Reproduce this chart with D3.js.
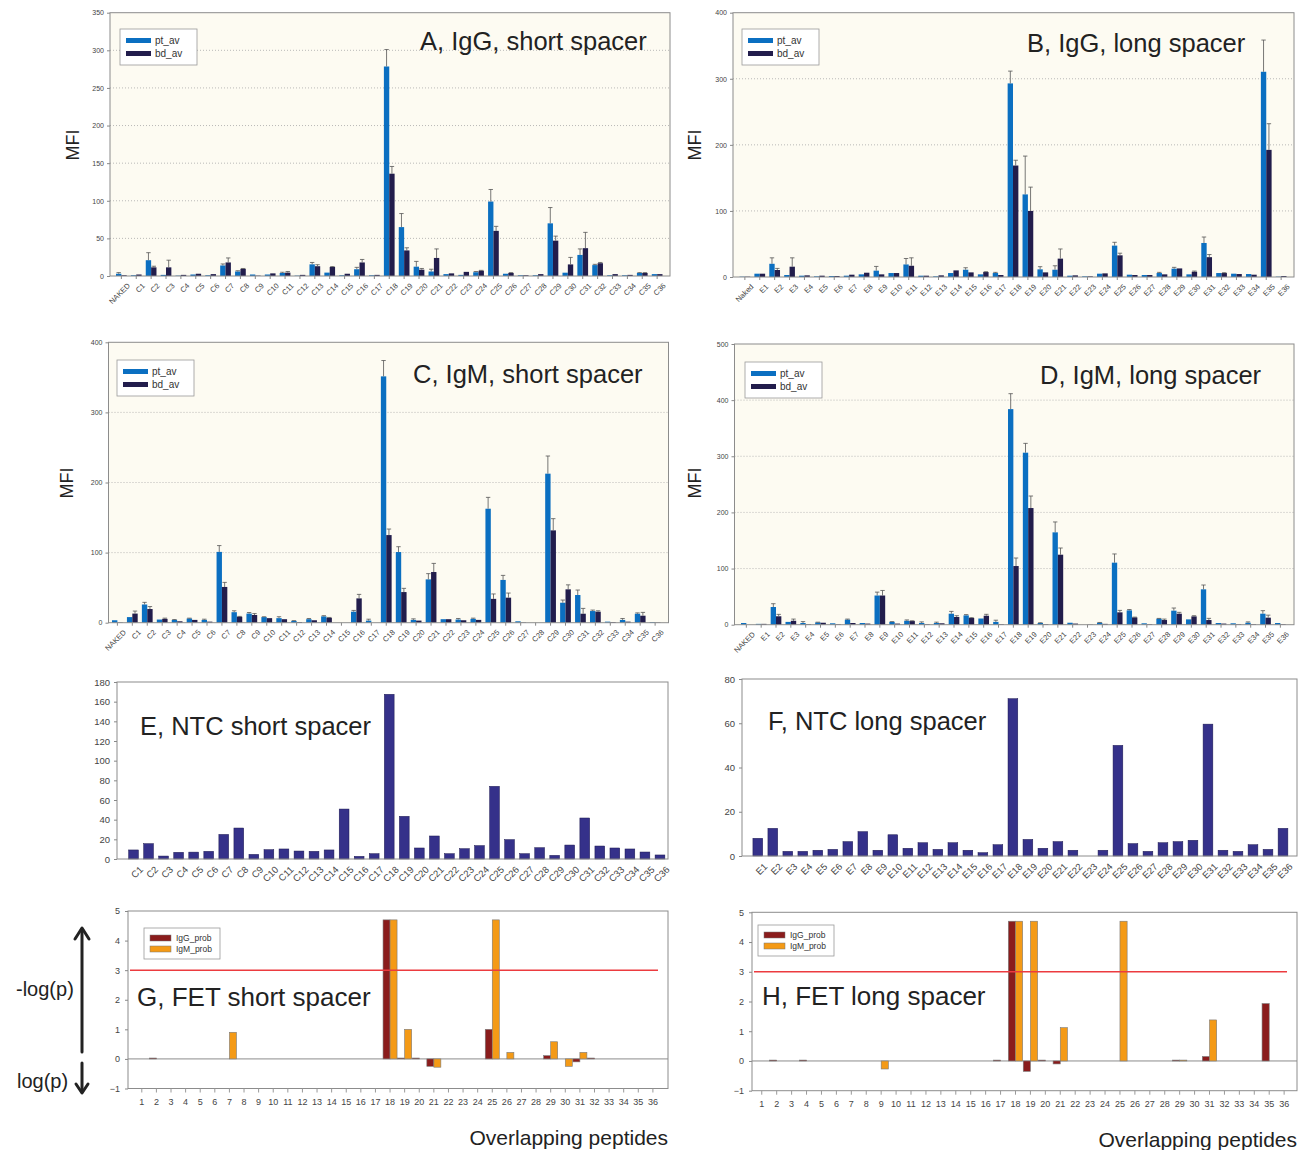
<!DOCTYPE html>
<html>
<head>
<meta charset="utf-8">
<script src="https://cdn.jsdelivr.net/npm/d3@7"></script>
<style>
  body { margin: 0; background: #fff; }
  text { font-family: "Liberation Sans", Arial, sans-serif; }
</style>
</head>
<body>
<svg id="fig" width="1309" height="1150"></svg>
<script>
// ---- categories ----
var shortCats = ["NAKED","C1","C2","C3","C4","C5","C6","C7","C8","C9","C10","C11","C12","C13","C14","C15","C16","C17","C18","C19","C20","C21","C22","C23","C24","C25","C26","C27","C28","C29","C30","C31","C32","C33","C34","C35","C36"];
var longCatsB = ["Naked","E1","E2","E3","E4","E5","E6","E7","E8","E9","E10","E11","E12","E13","E14","E15","E16","E17","E18","E19","E20","E21","E22","E23","E24","E25","E26","E27","E28","E29","E30","E31","E32","E33","E34","E35","E36"];
var longCatsD = ["NAKED"].concat(longCatsB.slice(1));
var peptideNums = ["1","2","3","4","5","6","7","8","9","10","11","12","13","14","15","16","17","18","19","20","21","22","23","24","25","26","27","28","29","30","31","32","33","34","35","36"];

// ---- A, IgG short spacer ----
var aPt    = [3,1,21,1.5,0.5,2,1,14,6,2,2,4,0.5,15.5,4.5,1,9,1,278.5,65,12.4,6,2.5,1.5,5,99,3,1,1,70,4.4,28,14.5,1,1,4,2.5];
var aPtErr = [1.5,0,10,0,0,0,0,2,1,0,0,1,0,2.5,0,0,2.5,0,22.5,18,7,3,0,0,1,16,0,0,0,21,0,8,1,0,0,0.5,0];
var aBd    = [1,2,11.5,11.5,1.5,3,2.5,18,9.5,0.5,3.5,4.5,1.5,13,12,3,18,1.5,136,34,8.4,24,3.5,5.5,7,60,4,1,2.5,47,15.4,37,17,2.5,1.5,4,2.5];
var aBdErr = [0,0,1.5,9.5,0,0,0,6,0.5,0,0,1.5,0,2,0.5,0,4,0,9.6,3.5,1.6,12,0,0,0.5,6,0.5,0,0,6,9.3,21,1,0,0,0.5,0];

// ---- B, IgG long spacer ----
var bPt    = [0.5,5,20,3,2,1,1.5,2,4,9.6,6,19,2,1,6,11,4,6,293,125,11.6,11,2,1,5,47.5,3.5,3,6,12.6,4,51.5,6,5,4.5,310.6,0.5];
var bPtErr = [0,0,9,0,0,0,0,0,0,6.4,0,9,0,0,0,3,0,1,18.6,58,4,6,0,0,0,5,0,0,1,2,0,9,0,0,0,48,0];
var bBd    = [0.5,5,10.6,15.6,2.5,2,1.5,3.5,6.5,4,6,17,2,2.5,10,7,7.5,3,168.7,100,7,27.8,2.5,1,5.5,32.8,3,3,4,13,8,30,6,4.5,3.5,192.4,1.5];
var bBdErr = [0,0,2.4,13.4,0,0,0,0,0,0,0,12,0,0,0,0,0.5,0,8,36,0,14.6,0,0,0,3.2,0,0,0,0,1,4,0.5,0,0,39.6,0];

// ---- C, IgM short spacer ----
var cPt    = [3.5,8,26,4.5,4,6,4,101,15,13,8,6.5,2.5,5,9,0,15.7,3,351.4,100.8,4,61.8,5,4.5,5.5,162.6,61,2,0,212.6,28.5,39.5,16.6,1.5,4,12.8,1];
var cPtErr = [0,0,3,0,0.5,0.5,1,9,2,1.5,0.5,2,0.5,1,1,0,1.8,2,22.6,7.6,1.5,8.2,0,1.5,1,16.2,6.5,0,0,25.2,3.8,7.1,1.4,0,2,1.2,0];
var cBd    = [0.5,13,19.5,5.5,2,4,1.5,51,8.5,11,6.5,5,1,3.5,7,0,34.7,0,125,43.7,3,72.3,5,3.5,4,34,35.7,0.5,0,131.7,47.6,12.8,15.7,1,1.5,10,0.5];
var cBdErr = [0,3.6,3.5,1,0,0,0,6.5,0.5,2,0,0,0,0,0.5,0,5.7,0,8.6,5.3,0,12.3,0,0,0,7,6.6,0,0,16.7,6.4,7.6,1.3,0,0,4.7,0];

// ---- D, IgM long spacer ----
var dPt    = [3,1.5,31.5,5,3,4,2.5,9,3,52,5,7,3,3,19.6,16.6,11,5,384,306.4,3,164.5,3.5,0,3.5,110.5,25.5,2.5,10.7,25,9.5,63,3,2.5,3.5,19.6,3];
var dPtErr = [0,0,5.9,0,2.5,0.5,0,1,0,6,0.5,1.5,2,1.5,4.1,1.4,0,3,27.5,16.6,0.5,18.5,0,0,0.5,15.5,1.5,0,0.5,4.7,0,7.7,0,0,1.5,5.4,0];
var dBd    = [0,1.5,15,7,1,3.5,1,3,2,52,2,6.5,1,2.5,13.7,12,16,1,104.5,207.8,1,124.7,2,0.5,1.5,22,13,1,8.3,19.6,14.8,8.3,2,1,1,12.5,1];
var dBdErr = [0,0,3.4,3,0,0,0,0,0,9,0,0.5,0,0,2.3,0.5,2.5,0,14.3,21.4,0,11.9,0,0,0,3.5,0.5,0,1.7,2.4,1.2,3,0,0,0,4.5,0];

// ---- E / F, NTC ----
var eNtc = [9.2,15.6,3,6.8,7,7.8,25,31.5,4.7,9.5,10.2,8.1,7.8,9.2,50.8,2.7,5.4,167.5,43.4,11.2,23.4,5.4,10.5,13.6,73.9,19.7,5.4,11.5,3.7,14.2,41.7,13.2,11.2,10.2,7.1,4.1];
var fNtc = [8,12.5,2.1,2.1,2.6,3,6.5,11,2.6,9.6,3.5,6,3,6,2.6,1.5,5.1,71.1,7.5,3.5,6.5,2.6,0,2.6,50,5.6,2.1,6,6.5,7.1,59.6,2.6,2.1,5.1,3,12.5];

// ---- G / H, FET -log(p) ----
var gIgG = [0,0.03,0,0,0,0,0,0,0,0,0,0,0,0,0,0,0,4.7,0.03,0.03,-0.25,0,0,0,1.0,0,0,0,0.11,0,-0.1,0.03,0,0,0,0];
var gIgM = [0,0,0,0,0,0,0.9,0,0,0,0,0,0,0,0,0,0,4.7,1.0,0,-0.28,0,0,0,4.7,0.22,0,0,0.58,-0.25,0.22,0,0,0,0,0];
var hIgG = [0,0.03,0,0.03,0,0,0,0,0,0,0,0,0,0,0,0,0.03,4.7,-0.35,0.03,-0.1,0,0,0,0,0,0,0,0.03,0,0.15,0,0,0,1.93,0];
var hIgM = [0,0,0,0,0,0,0,0,-0.27,0,0,0,0,0,0,0,0,4.7,4.7,0,1.12,0,0,0,4.7,0,0,0,0.03,0,1.38,0,0,0,0,0];

var svg = d3.select("#fig");
svg.append("rect").attr("width", 1309).attr("height", 1150).attr("fill", "#fff");

var PT_COL = "#0b6fc1", BD_COL = "#221d4c";
var NTC_COL = "#35318a", IGG_COL = "#8a1c1c", IGM_COL = "#f49a16";
var FONT = "'Liberation Sans', Arial, sans-serif";

function mfiPanel(p) {
  var g = svg.append("g");
  var x = d3.scaleBand().domain(p.cats).range(p.xr).paddingInner(0.28).paddingOuter(0);
  var y = d3.scaleLinear().domain([0, p.max]).range([p.y1, p.y0]);
  var sub = d3.scaleBand().domain([0, 1]).range([0, x.bandwidth()]);

  g.append("rect").attr("x", p.x0).attr("y", p.y0)
    .attr("width", p.x1 - p.x0).attr("height", p.y1 - p.y0)
    .attr("fill", "#fdfbf2");

  g.selectAll(".grid").data(d3.range(p.step, p.max, p.step)).join("line")
    .attr("x1", p.x0).attr("x2", p.x1)
    .attr("y1", d => y(d)).attr("y2", d => y(d))
    .attr("stroke", "#a8a8a8").attr("stroke-width", 0.8)
    .attr("stroke-dasharray", "1,2");

  var series = [{v: p.pt, e: p.ptErr, c: PT_COL}, {v: p.bd, e: p.bdErr, c: BD_COL}];
  series.forEach(function(s, si) {
    g.selectAll(null).data(p.cats).join("rect")
      .attr("x", d => x(d) + sub(si))
      .attr("width", sub.bandwidth())
      .attr("y", (d, i) => y(s.v[i]))
      .attr("height", (d, i) => y(0) - y(s.v[i]))
      .attr("fill", s.c);
    var errs = p.cats.map((d, i) => ({c: d, v: s.v[i], e: s.e[i]})).filter(d => d.e > 0);
    var eg = g.selectAll(null).data(errs).join("g")
      .attr("stroke", "#555").attr("stroke-width", 0.8);
    eg.append("line")
      .attr("x1", d => x(d.c) + sub(si) + sub.bandwidth() / 2)
      .attr("x2", d => x(d.c) + sub(si) + sub.bandwidth() / 2)
      .attr("y1", d => y(d.v)).attr("y2", d => y(d.v + d.e));
    eg.append("line")
      .attr("x1", d => x(d.c) + sub(si) + sub.bandwidth() / 2 - 2.2)
      .attr("x2", d => x(d.c) + sub(si) + sub.bandwidth() / 2 + 2.2)
      .attr("y1", d => y(d.v + d.e)).attr("y2", d => y(d.v + d.e));
  });

  g.append("rect").attr("x", p.x0).attr("y", p.y0)
    .attr("width", p.x1 - p.x0).attr("height", p.y1 - p.y0)
    .attr("fill", "none").attr("stroke", "#8c8c8c").attr("stroke-width", 1);

  var ya = g.append("g").attr("transform", "translate(" + p.x0 + ",0)")
    .call(d3.axisLeft(y).tickValues(d3.range(0, p.max + 1, p.step)).tickSize(3).tickPadding(3));
  ya.select(".domain").remove();
  ya.selectAll("line").attr("stroke", "#888");
  ya.selectAll("text").attr("font-size", 7).attr("fill", "#444").style("font-family", FONT);

  var xa = g.append("g").attr("transform", "translate(0," + p.y1 + ")")
    .call(d3.axisBottom(x).tickSize(3).tickPadding(2));
  xa.select(".domain").remove();
  xa.selectAll("line").attr("stroke", "#888");
  xa.selectAll("text").attr("font-size", 7.5).attr("fill", "#444").style("font-family", FONT)
    .attr("text-anchor", "end").attr("dy", "0.5em")
    .attr("transform", "translate(3,4) rotate(-45)");

  g.append("text").attr("transform", "translate(" + p.mfi[0] + "," + p.mfi[1] + ") rotate(-90)")
    .attr("text-anchor", "middle").attr("font-size", 18).attr("fill", "#222").text("MFI");

  g.append("text").attr("x", p.title[0]).attr("y", p.title[1])
    .attr("font-size", 25.5).attr("fill", "#222").text(p.titleText);

  var lg = g.append("g").attr("transform", "translate(" + p.legend[0] + "," + p.legend[1] + ")");
  lg.append("rect").attr("width", 77).attr("height", 36)
    .attr("fill", "#fff").attr("stroke", "#999").attr("stroke-width", 0.8);
  [["pt_av", PT_COL], ["bd_av", BD_COL]].forEach(function(it, i) {
    lg.append("rect").attr("x", 6).attr("y", 9 + i * 13).attr("width", 25).attr("height", 5).attr("fill", it[1]);
    lg.append("text").attr("x", 35).attr("y", 15 + i * 13).attr("font-size", 10).attr("fill", "#333").text(it[0]);
  });
}

function ntcPanel(p) {
  var g = svg.append("g");
  var x = d3.scaleBand().domain(p.cats).range(p.xr).paddingInner(0.35).paddingOuter(0.175);
  var y = d3.scaleLinear().domain([0, p.max]).range([p.y1, p.y0]);

  g.selectAll(null).data(p.cats).join("rect")
    .attr("x", d => x(d)).attr("width", x.bandwidth())
    .attr("y", (d, i) => y(p.vals[i])).attr("height", (d, i) => y(0) - y(p.vals[i]))
    .attr("fill", NTC_COL).attr("stroke", "#1c1950").attr("stroke-width", 0.5);

  g.append("rect").attr("x", p.x0).attr("y", p.y0)
    .attr("width", p.x1 - p.x0).attr("height", p.y1 - p.y0)
    .attr("fill", "none").attr("stroke", "#8c8c8c").attr("stroke-width", 1);

  var ya = g.append("g").attr("transform", "translate(" + p.x0 + ",0)")
    .call(d3.axisLeft(y).tickValues(d3.range(0, p.max + 1, p.step)).tickSize(3).tickPadding(4));
  ya.select(".domain").remove();
  ya.selectAll("line").attr("stroke", "#888");
  ya.selectAll("text").attr("font-size", 9.5).attr("fill", "#444").style("font-family", FONT);

  var xa = g.append("g").attr("transform", "translate(0," + p.y1 + ")")
    .call(d3.axisBottom(x).tickSize(0).tickPadding(4));
  xa.select(".domain").remove();
  xa.selectAll("text").attr("font-size", 9.5).attr("fill", "#444").style("font-family", FONT)
    .attr("text-anchor", "end").attr("dy", "0.5em")
    .attr("transform", "translate(4,5) rotate(-45)");

  g.append("text").attr("x", p.title[0]).attr("y", p.title[1])
    .attr("font-size", 25.5).attr("fill", "#222").text(p.titleText);
}

function fetPanel(p) {
  var g = svg.append("g");
  var x = d3.scaleBand().domain(peptideNums).range(p.xr).paddingInner(0.04).paddingOuter(0.02);
  var y = d3.scaleLinear().domain([-1, 5]).range([p.y1, p.y0]);
  var sub = d3.scaleBand().domain([0, 1]).range([0, x.bandwidth()]);

  g.append("line").attr("x1", p.x0).attr("x2", p.x1).attr("y1", y(0)).attr("y2", y(0))
    .attr("stroke", "#8c8c8c").attr("stroke-width", 1);

  [[p.igg, IGG_COL], [p.igm, IGM_COL]].forEach(function(s, si) {
    g.selectAll(null).data(peptideNums.filter((d, i) => s[0][i] !== 0)).join("rect")
      .attr("x", d => x(d) + sub(si)).attr("width", sub.bandwidth())
      .attr("y", d => y(Math.max(0, s[0][+d - 1])))
      .attr("height", d => Math.abs(y(s[0][+d - 1]) - y(0)))
      .attr("fill", s[1]).attr("stroke", "#7a7a7a").attr("stroke-width", 0.6);
  });

  g.append("line").attr("x1", p.x0 + 2).attr("x2", p.x1 - 10).attr("y1", y(3)).attr("y2", y(3))
    .attr("stroke", "#ec3b3f").attr("stroke-width", 1.5);

  g.append("rect").attr("x", p.x0).attr("y", p.y0)
    .attr("width", p.x1 - p.x0).attr("height", p.y1 - p.y0)
    .attr("fill", "none").attr("stroke", "#8c8c8c").attr("stroke-width", 1);

  var ya = g.append("g").attr("transform", "translate(" + p.x0 + ",0)")
    .call(d3.axisLeft(y).tickValues([-1, 0, 1, 2, 3, 4, 5]).tickFormat(d3.format("d"))
      .tickSize(3).tickPadding(5));
  ya.select(".domain").remove();
  ya.selectAll("line").attr("stroke", "#888");
  ya.selectAll("text").attr("font-size", 9).attr("fill", "#444").style("font-family", FONT);

  var xa = g.append("g").attr("transform", "translate(0," + p.y1 + ")")
    .call(d3.axisBottom(x).tickSize(4).tickPadding(6));
  xa.select(".domain").remove();
  xa.selectAll("line").attr("stroke", "#999");
  xa.selectAll("text").attr("font-size", 9).attr("fill", "#444").style("font-family", FONT);

  g.append("text").attr("x", p.title[0]).attr("y", p.title[1])
    .attr("font-size", 26).attr("fill", "#222").text(p.titleText);

  g.append("text").attr("x", p.x1).attr("y", p.y1 + 56).attr("text-anchor", "end")
    .attr("font-size", 21).attr("fill", "#222").text("Overlapping peptides");

  var lg = g.append("g").attr("transform", "translate(" + p.legend[0] + "," + p.legend[1] + ")");
  lg.append("rect").attr("width", 76).attr("height", 31)
    .attr("fill", "#fff").attr("stroke", "#999").attr("stroke-width", 0.8);
  [["IgG_prob", IGG_COL], ["IgM_prob", IGM_COL]].forEach(function(it, i) {
    lg.append("rect").attr("x", 6).attr("y", 7 + i * 11).attr("width", 21).attr("height", 6)
      .attr("fill", it[1]).attr("stroke", "#777").attr("stroke-width", 0.5);
    lg.append("text").attr("x", 32).attr("y", 13 + i * 11).attr("font-size", 8.5).attr("fill", "#333").text(it[0]);
  });
}

mfiPanel({cats: shortCats, pt: aPt, ptErr: aPtErr, bd: aBd, bdErr: aBdErr, max: 350, step: 50,
  x0: 110, x1: 670, y0: 12.7, y1: 276, xr: [116, 662.5],
  mfi: [79, 145], title: [420, 50], titleText: "A, IgG, short spacer", legend: [120, 29]});
mfiPanel({cats: longCatsB, pt: bPt, ptErr: bPtErr, bd: bBd, bdErr: bBdErr, max: 400, step: 100,
  x0: 733, x1: 1294, y0: 12.7, y1: 277, xr: [739.5, 1286.5],
  mfi: [701, 145], title: [1027, 52], titleText: "B, IgG, long spacer", legend: [742, 29]});
mfiPanel({cats: shortCats, pt: cPt, ptErr: cPtErr, bd: cBd, bdErr: cBdErr, max: 400, step: 100,
  x0: 108.5, x1: 668.5, y0: 342.3, y1: 622.7, xr: [112, 660.5],
  mfi: [73, 483], title: [413, 383], titleText: "C, IgM, short spacer", legend: [117, 360]});
mfiPanel({cats: longCatsD, pt: dPt, ptErr: dPtErr, bd: dBd, bdErr: dBdErr, max: 500, step: 100,
  x0: 734.5, x1: 1294, y0: 344, y1: 624.7, xr: [741, 1285.7],
  mfi: [701, 483], title: [1040, 384], titleText: "D, IgM, long spacer", legend: [745, 362]});

ntcPanel({cats: shortCats.slice(1), vals: eNtc, max: 180, step: 20,
  x0: 117, x1: 668, y0: 682, y1: 859, xr: [126, 667.5],
  title: [140, 735], titleText: "E, NTC short spacer"});
ntcPanel({cats: longCatsB.slice(1), vals: fNtc, max: 80, step: 20,
  x0: 742, x1: 1297, y0: 679, y1: 856, xr: [750.3, 1290.5],
  title: [768, 730], titleText: "F, NTC long spacer"});

fetPanel({igg: gIgG, igm: gIgM, x0: 128, x1: 668, y0: 911, y1: 1088.5, xr: [134.5, 660.2],
  title: [137, 1006], titleText: "G, FET short spacer", legend: [144, 928]});
fetPanel({igg: hIgG, igm: hIgM, x0: 752, x1: 1297, y0: 912.3, y1: 1090.7, xr: [754.3, 1291.6],
  title: [762, 1005], titleText: "H, FET long spacer", legend: [758, 925]});

// -log(p) / log(p) side labels with arrows
var side = svg.append("g").attr("fill", "#222");
side.append("text").attr("x", 16).attr("y", 996).attr("font-size", 20).text("-log(p)");
side.append("text").attr("x", 17).attr("y", 1088).attr("font-size", 20).text("log(p)");
var arr = svg.append("g").attr("stroke", "#222").attr("stroke-width", 3).attr("fill", "none")
  .attr("stroke-linecap", "round").attr("stroke-linejoin", "round");
arr.append("line").attr("x1", 82).attr("y1", 1052).attr("x2", 82).attr("y2", 929);
arr.append("polyline").attr("points", "75,939 82,928 89,939");
arr.append("line").attr("x1", 82).attr("y1", 1063).attr("x2", 82).attr("y2", 1092);
arr.append("polyline").attr("points", "76,1084 82,1093 88,1084");
</script>
</body>
</html>
